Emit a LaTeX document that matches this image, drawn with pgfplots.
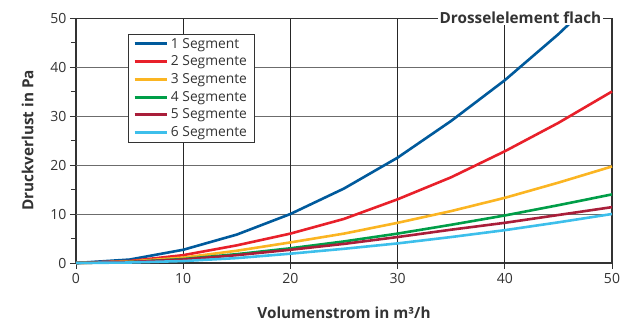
\documentclass[border=0pt]{standalone}
\usepackage{fontspec}
\setmainfont{Open Sans}
\usepackage{pgfplots}
\pgfplotsset{compat=1.18}
\definecolor{cA}{RGB}{0,90,156}
\definecolor{cB}{RGB}{232,32,42}
\definecolor{cC}{RGB}{251,181,34}
\definecolor{cD}{RGB}{0,158,72}
\definecolor{cE}{RGB}{169,30,58}
\definecolor{cF}{RGB}{61,191,235}
\definecolor{axc}{RGB}{51,51,51}
\begin{document}
\begin{tikzpicture}
\begin{axis}[
  at={(0,0)}, anchor=south west,
  scale only axis, width=536pt, height=245pt,
  xmin=0, xmax=50, ymin=0, ymax=50,
  axis lines=left,
  axis line style={axc, line width=1.6pt, -},
  xtick={0,10,...,50}, ytick={0,10,...,50},
  minor ytick={5,15,...,45},
  tick align=outside,
  major tick length=6pt, minor tick length=5pt,
  tick style={axc, line width=0.8pt},
  /pgf/number format/assume math mode=true,
  tick label style={font=\fontsize{14}{16}\selectfont, text=axc},
  xticklabel style={yshift=-1pt},
  xlabel={\textbf{Volumenstrom in m³/h}},
  ylabel={\textbf{Druckverlust in Pa}},
  label style={font=\fontsize{15.3}{17}\selectfont, text=axc},
  xlabel style={yshift=-16pt},
  ylabel style={yshift=10pt},
  clip=false,
  legend style={at={(0.097,0.935)}, anchor=north west, draw=axc, line width=0.5pt,
    font=\fontsize{13.8}{15}\selectfont, text=axc, row sep=2.2pt, inner xsep=5pt, inner ysep=2pt},
  legend cell align=left,
  legend image code/.code={\draw[line width=3pt,#1] (0cm,0cm) -- (1.15cm,0cm);},
  every axis plot/.append style={line width=2.6pt},
]
% grid
\draw[gray!85!black, line width=0.7pt] (axis cs:0,10) -- (axis cs:50,10);
\draw[gray!85!black, line width=0.7pt] (axis cs:0,20) -- (axis cs:50,20);
\draw[gray!85!black, line width=0.7pt] (axis cs:0,30) -- (axis cs:50,30);
\draw[gray!85!black, line width=0.7pt] (axis cs:0,40) -- (axis cs:50,40);
\draw[black!85, line width=0.7pt] (axis cs:10,0) -- (axis cs:10,50);
\draw[black!85, line width=0.7pt] (axis cs:20,0) -- (axis cs:20,50);
\draw[black!85, line width=0.7pt] (axis cs:30,0) -- (axis cs:30,50);
\draw[black!85, line width=0.7pt] (axis cs:40,0) -- (axis cs:40,50);
\draw[axc, line width=1pt] (axis cs:0,50) -- (axis cs:50,50);
\draw[axc, line width=1.6pt] (axis cs:50,0) -- (axis cs:50,50);
\addplot[cA] coordinates {(0,0) (5,0.7) (10,2.7) (15,5.8) (20,10) (25,15.2) (30,21.5) (35,29) (40,37.3) (45,46.7) (46.1,49)};
\addlegendentry{1 Segment}
\addplot[cB] coordinates {(0,0) (5,0.4) (10,1.6) (15,3.6) (20,6) (25,9) (30,13) (35,17.5) (40,22.8) (45,28.6) (50,35)};
\addlegendentry{2 Segmente}
\addplot[cC] coordinates {(0,0) (5,0.3) (10,1.1) (15,2.5) (20,4.2) (25,6) (30,8.2) (35,10.6) (40,13.3) (45,16.4) (50,19.7)};
\addlegendentry{3 Segmente}
\addplot[cD] coordinates {(0,0) (5,0.2) (10,0.8) (15,1.8) (20,3) (25,4.4) (30,6) (35,7.8) (40,9.7) (45,11.8) (50,14)};
\addlegendentry{4 Segmente}
\addplot[cE] coordinates {(0,0) (5,0.2) (10,0.7) (15,1.6) (20,2.7) (25,3.9) (30,5.3) (35,6.8) (40,8.2) (45,9.8) (50,11.4)};
\addlegendentry{5 Segmente}
\addplot[cF] coordinates {(0,0) (5,0.1) (10,0.4) (15,1) (20,1.9) (25,2.9) (30,4) (35,5.3) (40,6.7) (45,8.3) (50,10)};
\addlegendentry{6 Segmente}
\node[fill=white, inner xsep=2pt, inner ysep=1pt, anchor=east, text=axc, font=\fontsize{15.3}{17}\selectfont\bfseries] at (axis cs:49.2,50) {Drosselelement flach};
\end{axis}
\useasboundingbox (-76pt,-61pt) rectangle (556pt,263pt);
\end{tikzpicture}
\end{document}
